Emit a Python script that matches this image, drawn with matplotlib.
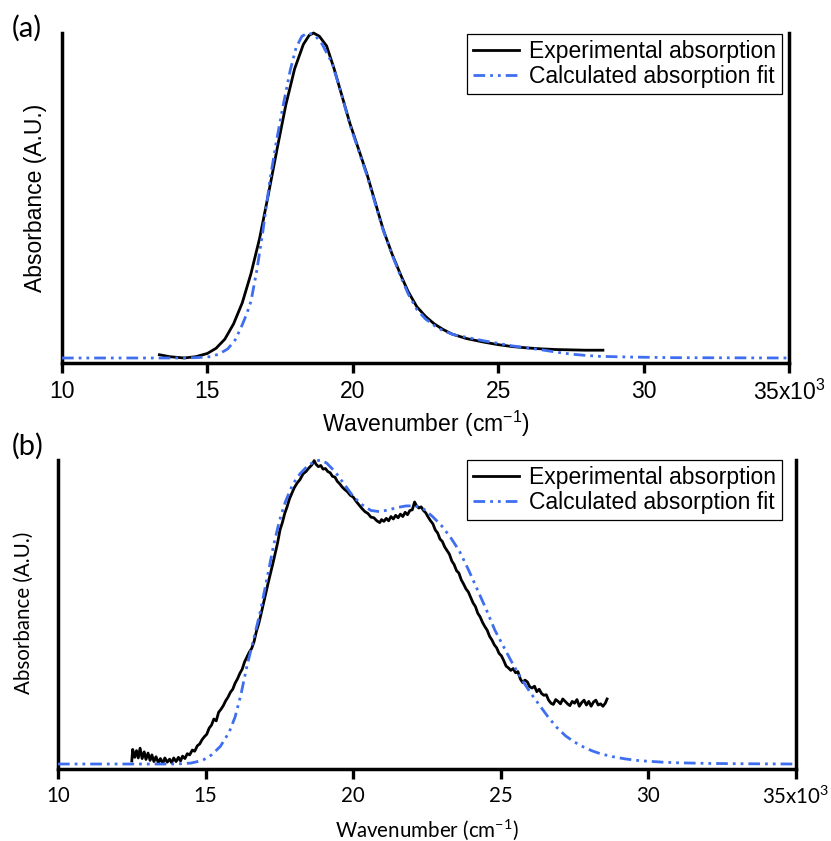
import matplotlib
matplotlib.use('Agg')
import matplotlib.pyplot as plt

plt.rcParams['font.family'] = ['Liberation Sans', 'DejaVu Sans']
plt.rcParams['mathtext.default'] = 'regular'

# wavenumber in units of 10^3 cm^-1, absorbance normalised
tick_pos = [10, 15, 20, 25, 30, 35]
tick_lab = ['10', '15', '20', '25', '30', '35x10$^{3}$']
leg_labels = ['Experimental absorption', 'Calculated absorption fit']

# panel (a)
xa_exp = [13.35, 13.7, 14.2, 14.6, 15.0, 15.3, 15.6, 15.9, 16.2, 16.5, 16.8, 17.1, 17.4,
          17.7, 18.0, 18.3, 18.5, 18.65, 18.85, 19.1, 19.35, 19.6, 19.9, 20.2, 20.5,
          20.8, 21.05, 21.35, 21.65, 21.9, 22.2, 22.5, 22.8, 23.1, 23.4, 23.9, 24.5,
          25.0, 25.5, 26.0, 26.5, 27.0, 27.5, 28.0, 28.6]
ya_exp = [0.010, 0.004, 0.000, 0.004, 0.014, 0.030, 0.058, 0.105, 0.170, 0.260, 0.370,
          0.505, 0.645, 0.780, 0.890, 0.965, 0.993, 1.000, 0.990, 0.960, 0.892, 0.815,
          0.722, 0.642, 0.562, 0.470, 0.394, 0.320, 0.255, 0.205, 0.158, 0.128, 0.105,
          0.088, 0.074, 0.060, 0.049, 0.041, 0.035, 0.031, 0.028, 0.026, 0.025, 0.024,
          0.024]
xa_fit = [10.0, 14.0, 14.6, 15.1, 15.4, 15.7, 15.95, 16.15, 16.35, 16.5, 16.7, 16.9,
          17.15, 17.4, 17.6, 17.85, 18.05, 18.25, 18.45, 18.7, 18.95, 19.3, 19.6, 19.9,
          20.2, 20.5, 20.8, 21.05, 21.35, 21.65, 21.9, 22.2, 22.5, 22.8, 23.1, 23.5,
          24.0, 24.5, 25.0, 25.5, 26.0, 26.5, 27.0, 27.5, 28.0, 28.5, 29.5, 31.0, 35.0]
ya_fit = [0.0, 0.0, 0.001, 0.004, 0.012, 0.028, 0.055, 0.092, 0.135, 0.175, 0.270,
          0.385, 0.548, 0.680, 0.775, 0.886, 0.955, 0.990, 1.000, 0.993, 0.965, 0.905,
          0.815, 0.718, 0.638, 0.558, 0.466, 0.392, 0.318, 0.250, 0.198, 0.150, 0.120,
          0.100, 0.084, 0.071, 0.062, 0.053, 0.045, 0.037, 0.031, 0.025, 0.018, 0.012,
          0.008, 0.005, 0.003, 0.001, 0.0]

# panel (b)
xb_exp = [12.50, 12.53, 12.60, 12.66, 12.72, 12.78, 12.85, 12.92, 12.98, 13.05, 13.12,
          13.18, 13.25, 13.32, 13.40, 13.47, 13.55, 13.62, 13.70, 13.78, 13.85, 13.92,
          14.00, 14.08, 14.15, 14.22, 14.30, 14.38, 14.46, 14.55, 14.63, 14.72, 14.80,
          14.88, 14.96, 15.04, 15.12, 15.20, 15.28, 15.36, 15.44, 15.52, 15.60, 15.68,
          15.76, 15.84, 15.92, 16.00, 16.08, 16.16, 16.24, 16.32, 16.40, 16.48, 16.56,
          16.64, 16.72, 16.80, 16.88, 16.96, 17.04, 17.12, 17.20, 17.28, 17.36, 17.44,
          17.52, 17.60, 17.68, 17.76, 17.84, 17.92, 18.00, 18.10, 18.20, 18.30, 18.40,
          18.50, 18.60, 18.68, 18.74, 18.82, 18.90, 18.98, 19.06, 19.14, 19.22, 19.30,
          19.38, 19.46, 19.54, 19.62, 19.70, 19.80, 19.90, 20.00, 20.10, 20.20, 20.30,
          20.40, 20.50, 20.60, 20.70, 20.80, 20.90, 20.96, 21.04, 21.12, 21.20, 21.28,
          21.36, 21.44, 21.52, 21.60, 21.68, 21.76, 21.84, 21.92, 22.00, 22.08, 22.14,
          22.22, 22.30, 22.38, 22.46, 22.54, 22.62, 22.70, 22.78, 22.86, 22.94, 23.02,
          23.10, 23.18, 23.26, 23.34, 23.42, 23.50, 23.58, 23.66, 23.74, 23.82, 23.90,
          23.98, 24.06, 24.14, 24.22, 24.30, 24.38, 24.46, 24.54, 24.62, 24.70, 24.78,
          24.86, 24.94, 25.02, 25.10, 25.18, 25.26, 25.34, 25.42, 25.50, 25.58, 25.66,
          25.74, 25.82, 25.90, 25.98, 26.06, 26.14, 26.22, 26.30, 26.38, 26.46, 26.54,
          26.62, 26.70, 26.78, 26.86, 26.94, 27.02, 27.10, 27.18, 27.26, 27.34, 27.42,
          27.50, 27.58, 27.66, 27.74, 27.82, 27.90, 27.98, 28.06, 28.14, 28.22, 28.30,
          28.38, 28.46, 28.54, 28.60]
yb_exp = [0.010, 0.048, 0.022, 0.044, 0.020, 0.052, 0.018, 0.040, 0.015, 0.036, 0.012,
          0.030, 0.008, 0.024, 0.004, 0.018, 0.002, 0.020, 0.006, 0.016, 0.004, 0.020,
          0.008, 0.022, 0.010, 0.026, 0.018, 0.034, 0.030, 0.046, 0.042, 0.060, 0.066,
          0.080, 0.090, 0.098, 0.118, 0.128, 0.148, 0.142, 0.170, 0.180, 0.192, 0.208,
          0.220, 0.236, 0.246, 0.266, 0.280, 0.298, 0.312, 0.336, 0.352, 0.368, 0.380,
          0.402, 0.436, 0.462, 0.494, 0.528, 0.562, 0.596, 0.628, 0.660, 0.694, 0.728,
          0.770, 0.794, 0.824, 0.846, 0.872, 0.890, 0.908, 0.924, 0.936, 0.954, 0.962,
          0.974, 0.984, 0.998, 0.986, 0.978, 0.982, 0.970, 0.972, 0.962, 0.958, 0.946,
          0.944, 0.930, 0.922, 0.912, 0.904, 0.896, 0.884, 0.878, 0.864, 0.852, 0.840,
          0.830, 0.824, 0.812, 0.810, 0.800, 0.794, 0.804, 0.798, 0.808, 0.800, 0.814,
          0.806, 0.818, 0.810, 0.822, 0.814, 0.828, 0.820, 0.834, 0.836, 0.862, 0.850,
          0.842, 0.846, 0.834, 0.826, 0.812, 0.800, 0.790, 0.770, 0.760, 0.740, 0.732,
          0.714, 0.702, 0.690, 0.668, 0.656, 0.636, 0.628, 0.606, 0.592, 0.576, 0.566,
          0.548, 0.530, 0.518, 0.496, 0.484, 0.466, 0.452, 0.440, 0.420, 0.408, 0.392,
          0.382, 0.364, 0.356, 0.340, 0.322, 0.316, 0.308, 0.314, 0.300, 0.304, 0.280,
          0.268, 0.276, 0.270, 0.254, 0.250, 0.256, 0.238, 0.246, 0.232, 0.226, 0.228,
          0.210, 0.200, 0.196, 0.212, 0.206, 0.198, 0.214, 0.206, 0.198, 0.192, 0.206,
          0.200, 0.212, 0.190, 0.202, 0.210, 0.194, 0.206, 0.190, 0.204, 0.210, 0.194,
          0.198, 0.190, 0.200, 0.214]
xb_fit = [10.0, 14.0, 14.5, 14.9, 15.2, 15.5, 15.8, 16.0, 16.2, 16.4, 16.6, 16.85, 17.1,
          17.3, 17.5, 17.7, 17.95, 18.2, 18.45, 18.7, 18.9, 19.1, 19.4, 19.7, 20.0, 20.3,
          20.6, 20.9, 21.2, 21.5, 21.8, 22.1, 22.4, 22.7, 23.0, 23.3, 23.6, 23.9, 24.2,
          24.5, 24.8, 25.1, 25.4, 25.7, 26.0, 26.3, 26.6, 26.9, 27.2, 27.5, 27.8, 28.1,
          28.4, 28.8, 29.2, 29.6, 30.0, 30.5, 31.0, 32.0, 33.0, 35.0]
yb_fit = [0.0, 0.0, 0.003, 0.012, 0.030, 0.058, 0.105, 0.155, 0.230, 0.322, 0.400, 0.500,
          0.620, 0.718, 0.800, 0.862, 0.920, 0.955, 0.980, 0.996, 1.000, 0.990, 0.960,
          0.920, 0.880, 0.853, 0.834, 0.830, 0.836, 0.844, 0.849, 0.849, 0.838, 0.813,
          0.783, 0.745, 0.700, 0.640, 0.575, 0.510, 0.440, 0.385, 0.330, 0.280, 0.235,
          0.195, 0.155, 0.120, 0.092, 0.072, 0.056, 0.043, 0.033, 0.024, 0.017, 0.012,
          0.009, 0.006, 0.004, 0.002, 0.001, 0.0]

blue = '#3f6ff0'
dashdot2 = (0, (4.2, 1.8, 1.0, 1.8, 1.0, 1.8))

fig = plt.figure(figsize=(8.31, 8.41), dpi=100)
ax1 = fig.add_axes([62/831, 1-363/841, 727/831, 330/841])
ax2 = fig.add_axes([58/831, 1-769/841, 738/831, 309/841])

panels = [
    (ax1, xa_exp, ya_exp, xa_fit, ya_fit, -0.0154, 'Liberation Sans', 16.5,
     (0.9904, 0.997), (-0.037, 0.5), -0.14, '(a)', 28),
    (ax2, xb_exp, yb_exp, xb_fit, yb_fit, -0.0164, 'Lato', 14.8,
     (0.981, 1.0), (-0.046, 0.506), -0.158, '(b)', 446),
]

for ax, xe, ye, xf, yf, ylo, fam, fs, legpos, ylc, xly, tag, tag_y in panels:
    ax.plot(xe, ye, color='black', lw=2.0, clip_on=False, label=leg_labels[0], zorder=2)
    ax.plot(xf, yf, color=blue, lw=2.0, ls=dashdot2, clip_on=False, label=leg_labels[1], zorder=3)
    ax.set_xlim(10, 35)
    ax.set_ylim(ylo, 1.0)
    ax.set_yticks([])
    ax.set_xticks(tick_pos)
    ax.set_xticklabels(tick_lab, family=[fam, 'DejaVu Sans'], fontsize=fs)
    ax.tick_params(axis='x', direction='out', length=7, width=2.4, pad=5, color='black')
    ax.spines['top'].set_visible(False)
    for s in ['left', 'bottom', 'right']:
        ax.spines[s].set_linewidth(2.5)
    ax.set_xlabel('Wavenumber (cm$^{-1}$)', family=[fam, 'DejaVu Sans'], fontsize=fs, va='top')
    ax.xaxis.set_label_coords(0.5, xly)
    ax.set_ylabel('Absorbance (A.U.)', family=[fam, 'DejaVu Sans'], fontsize=fs, va='center')
    ax.yaxis.set_label_coords(*ylc)
    leg = ax.legend(loc='upper right', bbox_to_anchor=legpos, borderaxespad=0,
                    prop={'family': 'Liberation Sans', 'size': 16.5},
                    fancybox=False, framealpha=1, edgecolor='black',
                    borderpad=0.25, labelspacing=0.1, handlelength=2.0, handletextpad=0.45)
    leg.get_frame().set_linewidth(0.9)
    fig.text(12/831, 1 - tag_y/841, tag, family=['Lato', 'DejaVu Sans'], fontsize=21,
             ha='left', va='center')

fig.savefig('out.png', dpi=100)
